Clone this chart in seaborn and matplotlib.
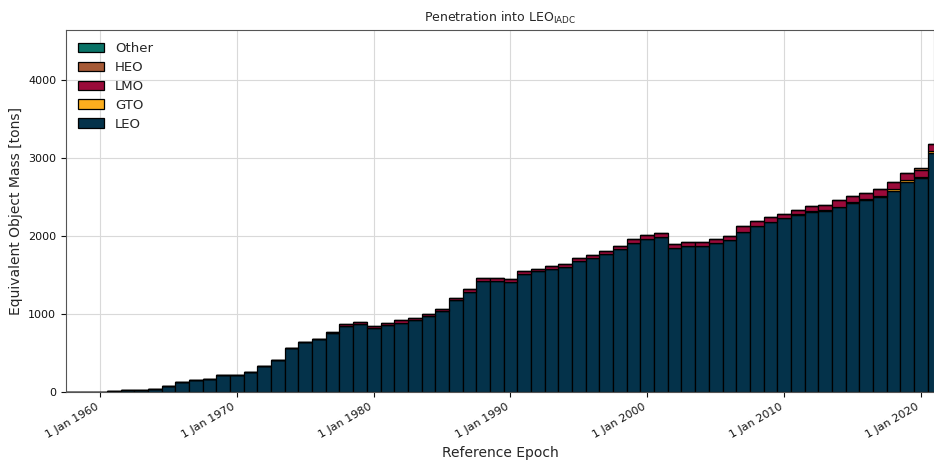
import numpy as np
import pandas as pd
import matplotlib
matplotlib.use("Agg")
import matplotlib.pyplot as plt
import seaborn as sns

# yearly equivalent object mass [tons] penetrating LEO_IADC, by orbit regime
years = list(range(1958, 2022))

leo = [0, 0, 5, 8, 20, 22, 38, 75, 128, 155, 162, 222, 218, 260, 333, 410,
       564, 641, 680, 753, 843, 872, 820, 855, 889, 920, 970, 1035, 1180, 1280,
       1427, 1427, 1414, 1512, 1546, 1576, 1600, 1678, 1712, 1763, 1831, 1916,
       1959, 1988, 1843, 1873, 1877, 1916, 1945, 2054, 2127, 2184, 2231, 2268,
       2310, 2318, 2367, 2425, 2459, 2498, 2582, 2688, 2737, 3060]
gto = [0] * 53 + [10, 10, 10, 5, 12, 12, 15, 20, 25, 20, 25]
lmo = [0] * 19 + [20, 25, 25, 30, 30, 30, 30, 30, 30, 30, 40, 35, 35, 35, 35,
                  35, 35, 35, 40, 40, 45, 45, 45, 50, 50, 50, 50, 50, 50, 50,
                  70, 65, 55, 55, 55, 60, 65, 85, 80, 80, 85, 90, 90, 85, 90]
heo = [0] * 62 + [25, 0]
other = [0] * 64

regimes = ["Other", "HEO", "LMO", "GTO", "LEO"]
colors = ["#0a7367", "#a65a36", "#9a0a3a", "#fcae1e", "#04324a"]
tick_years = [1960, 1970, 1980, 1990, 2000, 2010, 2020]

series = {"Other": other, "HEO": heo, "LMO": lmo, "GTO": gto, "LEO": leo}
df = pd.concat(
    [pd.DataFrame({"year": years, "regime": name, "mass": vals})
     for name, vals in series.items()],
    ignore_index=True,
)

sns.set_theme(style="ticks")
plt.rcParams["font.family"] = ["DejaVu Sans"]

fig = plt.figure(figsize=(9.34, 4.63), dpi=100)
ax = fig.add_axes([66 / 934, 71 / 463, 868 / 934, 362 / 463])

sns.histplot(data=df, x="year", weights="mass", hue="regime",
             hue_order=regimes, palette=colors, multiple="stack",
             discrete=True, shrink=1, alpha=1, edgecolor="black",
             linewidth=0.9, ax=ax)

ax.set_axisbelow(True)
ax.grid(True, color="#d9d9d9", linewidth=0.8)
ax.set_xlim(1957.51, 2020.96)
ax.set_ylim(0, 4640)
ax.set_yticks([0, 1000, 2000, 3000, 4000])
ax.set_xticks(tick_years)
ax.set_xticklabels([f"1 Jan {y}" for y in tick_years], rotation=30,
                   ha="right")
ax.tick_params(labelsize=8, length=3.5, width=0.8, colors="#111111")
for s in ax.spines.values():
    s.set_color("#555555")
    s.set_linewidth(0.8)

ax.set_title("Penetration into LEO$_{\\mathregular{IADC}}$", fontsize=9)
ax.set_xlabel("Reference Epoch", fontsize=10)
ax.set_ylabel("Equivalent Object Mass [tons]", fontsize=10)

sns.move_legend(ax, "upper left", frameon=False, title=None, fontsize=9.5,
                labelspacing=0.45)

fig.savefig("out.png", dpi=100)
